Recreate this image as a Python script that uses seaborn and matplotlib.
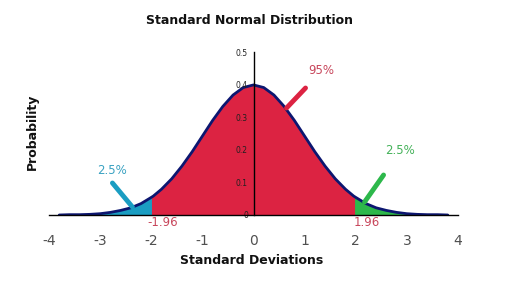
import matplotlib
matplotlib.use("Agg")
import matplotlib.pyplot as plt
import seaborn as sns
import numpy as np
import pandas as pd

# Values
z = [-3.8, -3.6, -3.4, -3.2, -3.0, -2.8, -2.6, -2.4, -2.2, -2.0, -1.96, -1.8, -1.6, -1.4,
     -1.2, -1.0, -0.8, -0.6, -0.4, -0.2, 0.0, 0.2, 0.4, 0.6, 0.8, 1.0, 1.2, 1.4, 1.6,
     1.8, 1.96, 2.0, 2.2, 2.4, 2.6, 2.8, 3.0, 3.2, 3.4, 3.6, 3.8]
prob = [0.000, 0.001, 0.001, 0.002, 0.004, 0.008, 0.014, 0.022, 0.035, 0.054, 0.058, 0.079,
        0.111, 0.150, 0.194, 0.242, 0.290, 0.333, 0.368, 0.391, 0.399, 0.391, 0.368, 0.333,
        0.290, 0.242, 0.194, 0.150, 0.111, 0.079, 0.058, 0.054, 0.035, 0.022, 0.014, 0.008,
        0.004, 0.002, 0.001, 0.001, 0.000]
x_ticks = [-4, -3, -2, -1, 0, 1, 2, 3, 4]
y_ticks = [0, 0.1, 0.2, 0.3, 0.4, 0.5]
y_tick_labels = ["0", "0.1", "0.2", "0.3", "0.4", "0.5"]
critical = [-1.96, 1.96]
area_labels = ["2.5%", "95%", "2.5%"]

df = pd.DataFrame({"z": z, "p": prob})

sns.set_style("white")
plt.rcParams['font.family'] = ['DejaVu Sans']

fig = plt.figure(figsize=(5.12, 2.85), dpi=100)
ax = fig.add_axes([49/512, 1-215/285, (458-49)/512, (215-52)/285])
ax.set_axisbelow(False)

red = "#DC2342"
teal = "#1A9DC2"
green = "#2DB84B"
navy = "#0C1670"

zs = np.array(z); ps = np.array(prob)
lo, hi = critical
ax.fill_between(zs, 0, ps, where=zs <= lo, color=teal, lw=0, zorder=1)
ax.fill_between(zs, 0, ps, where=(zs >= lo) & (zs <= hi), color=red, lw=0, zorder=1)
ax.fill_between(zs, 0, ps, where=zs >= hi, color=green, lw=0, zorder=1)
ax.vlines([lo, hi], 0, [prob[z.index(lo)], prob[z.index(hi)]], color=red, lw=1.5, zorder=1.5)
sns.lineplot(data=df, x="z", y="p", ax=ax, color=navy, lw=2.0, zorder=2)

ax.set_xlim(-4, 4)
ax.set_ylim(0, 0.5)
ax.spines['left'].set_position(('data', 0))
ax.spines['bottom'].set_position(('data', 0))
ax.spines['top'].set_visible(False)
ax.spines['right'].set_visible(False)
for s in ['left', 'bottom']:
    ax.spines[s].set_color('black')
    ax.spines[s].set_linewidth(1.0)
    ax.spines[s].set_zorder(3)

ax.set_xticks(x_ticks)
ax.set_xticklabels([str(t) for t in x_ticks], color="#505050", fontsize=10)
ax.set_yticks(y_ticks)
ax.set_yticklabels(y_tick_labels, fontsize=5.5, color="#202020")
ax.tick_params(axis='x', direction='out', length=4, width=1, color='black', pad=10)
ax.tick_params(axis='y', direction='out', length=3, width=0.8, color='black', pad=1)
for t in ax.get_yticklabels():
    t.set_zorder(4)
ax.set_xlabel("")
ax.set_ylabel("")

def px(xp, yp):
    return ((xp - 254) / 51.1, (215 - yp) / 326)

# annotation strokes
for (p0, p1, c) in [((306, 88), (287, 108), red),
                    ((113, 183), (133, 207), "#1A9DC2"),
                    ((384, 175), (365, 202), green)]:
    a = px(*p0); b = px(*p1)
    ax.plot([a[0], b[0]], [a[1], b[1]], color=c, lw=3.5, solid_capstyle='round',
            clip_on=False, zorder=5)

ax.text(*px(322, 70), area_labels[1], color="#C8475C", fontsize=8.5, ha='center', va='center')
ax.text(*px(113, 170), area_labels[0], color="#3AA2C2", fontsize=8.5, ha='center', va='center')
ax.text(*px(400, 150), area_labels[2], color="#45B25A", fontsize=8.5, ha='center', va='center')
ax.text(*px(163, 223), "-1.96", color="#C8475C", fontsize=8.5, ha='center', va='center', clip_on=False)
ax.text(*px(367, 223), "1.96", color="#C8475C", fontsize=8.5, ha='center', va='center', clip_on=False)

fig.text(249/512, 1-20/285, "Standard Normal Distribution", fontsize=9, fontweight='bold',
         ha='center', va='center', color="#111111")
fig.text(252/512, 1-261/285, "Standard Deviations", fontsize=9, fontweight='bold',
         ha='center', va='center', color="#111111")
fig.text(32/512, 1-132/285, "Probability", fontsize=9, fontweight='bold', rotation=90,
         ha='center', va='center', color="#111111")

fig.savefig("out.png", dpi=100)
